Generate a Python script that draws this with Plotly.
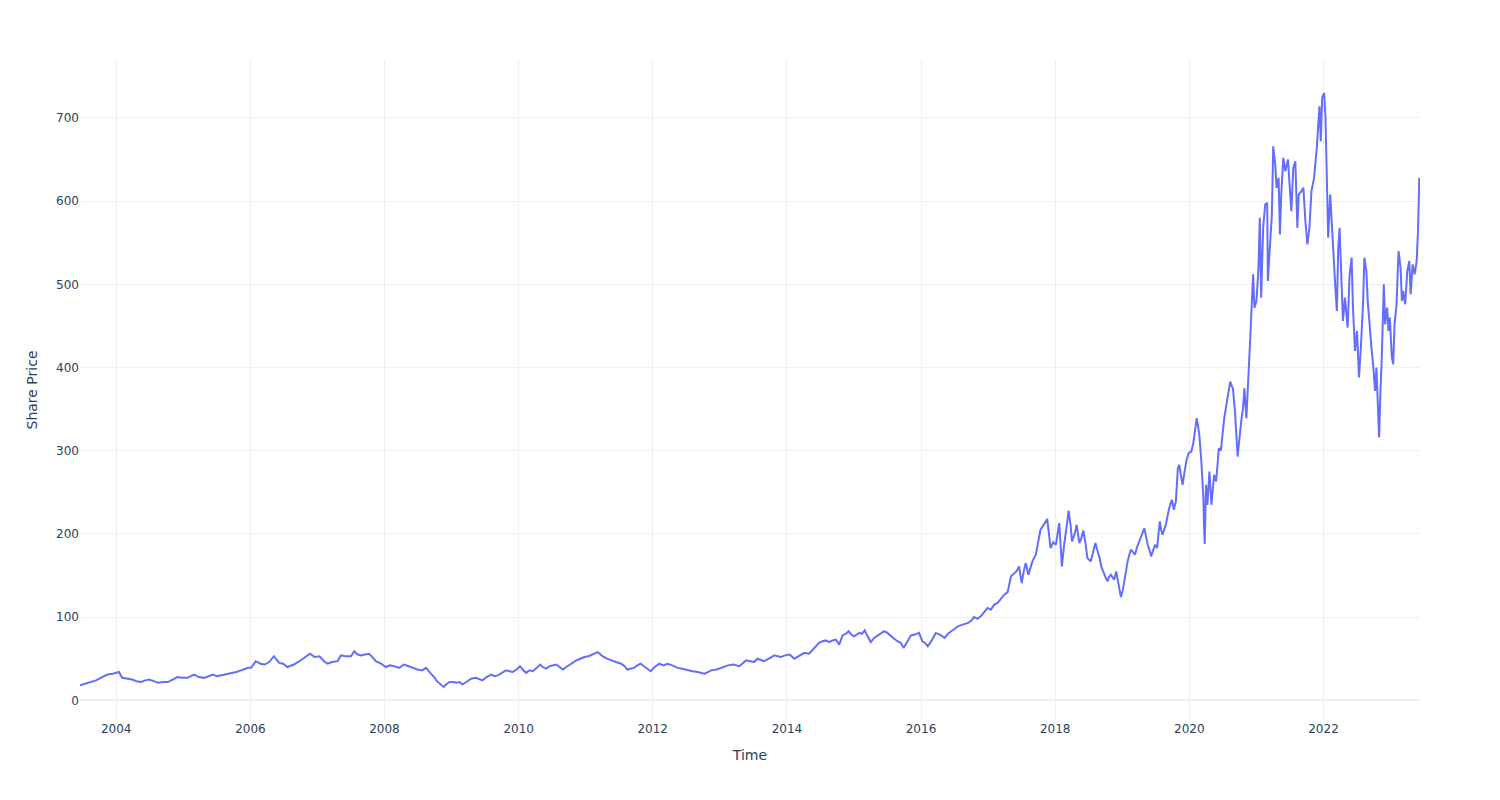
import datetime as dt
import plotly.graph_objects as go

# Time as decimal years
t_early = [2003.46, 2003.54, 2003.62, 2003.70, 2003.77, 2003.87, 2003.95, 2004.04, 2004.09, 2004.17,
           2004.24, 2004.30, 2004.37, 2004.43, 2004.49, 2004.56, 2004.62, 2004.70, 2004.77, 2004.84,
           2004.91, 2004.98, 2005.06, 2005.16, 2005.23, 2005.31, 2005.38, 2005.44, 2005.50, 2005.56,
           2005.64, 2005.71, 2005.79, 2005.86, 2005.96, 2006.01, 2006.08, 2006.15, 2006.21, 2006.28,
           2006.35, 2006.43, 2006.49, 2006.55, 2006.65, 2006.73, 2006.80, 2006.89, 2006.96, 2007.03,
           2007.10, 2007.15, 2007.22, 2007.30, 2007.35, 2007.42, 2007.50, 2007.55, 2007.60, 2007.65,
           2007.71, 2007.77, 2007.82, 2007.87, 2007.95, 2008.02, 2008.08, 2008.15]
p_early = [18, 20, 22, 24, 27, 31, 32, 34, 27, 26,
           25, 23, 22, 24, 25, 23, 21, 22, 22, 25,
           28, 27, 27, 31, 28, 27, 29, 31, 29, 30,
           31, 32, 34, 36, 39, 39, 47, 44, 43, 46,
           53, 45, 44, 40, 43, 47, 51, 56, 52, 53,
           47, 44, 46, 47, 54, 53, 53, 59, 55, 54,
           55, 56, 52, 47, 44, 40, 42, 41]

t_mid1 = [2008.22, 2008.29, 2008.36, 2008.43, 2008.49, 2008.56, 2008.62, 2008.69, 2008.74, 2008.78,
          2008.83, 2008.88, 2008.93, 2008.97, 2009.02, 2009.07, 2009.12, 2009.16, 2009.22, 2009.29,
          2009.36, 2009.41, 2009.46, 2009.52, 2009.59, 2009.64, 2009.69, 2009.75, 2009.81, 2009.86,
          2009.91, 2009.97, 2010.02, 2010.06, 2010.11, 2010.16, 2010.21, 2010.27, 2010.32, 2010.36,
          2010.41, 2010.46, 2010.51, 2010.56, 2010.61, 2010.66, 2010.71, 2010.76, 2010.81, 2010.86,
          2010.92, 2010.98, 2011.04, 2011.10, 2011.14, 2011.18, 2011.21, 2011.25, 2011.32, 2011.38,
          2011.45, 2011.53, 2011.58, 2011.62, 2011.67, 2011.72, 2011.77, 2011.82, 2011.87, 2011.92,
          2011.97, 2012.03, 2012.10, 2012.16, 2012.22, 2012.29, 2012.37, 2012.44, 2012.52, 2012.59,
          2012.67, 2012.72, 2012.77, 2012.82, 2012.87]
p_mid1 = [39, 43, 41, 39, 37, 36, 39, 32, 28, 23,
          20, 16, 20, 22, 22, 21, 22, 19, 22, 26,
          27, 25, 24, 28, 31, 29, 30, 33, 36, 35,
          34, 37, 41, 37, 33, 36, 35, 39, 43, 40,
          38, 41, 42, 43, 40, 37, 40, 43, 45, 48,
          50, 52, 53, 55, 57, 58, 56, 53, 50, 48,
          46, 44, 41, 37, 38, 39, 42, 44, 41, 38,
          35, 40, 44, 42, 44, 42, 39, 38, 36, 35,
          34, 33, 32, 34, 36]

t_mid2 = [2012.95, 2013.04, 2013.12, 2013.20, 2013.29, 2013.39, 2013.45, 2013.51, 2013.56, 2013.61,
          2013.66, 2013.73, 2013.81, 2013.86, 2013.91, 2013.97, 2014.04, 2014.11, 2014.18, 2014.26,
          2014.33, 2014.38, 2014.43, 2014.48, 2014.53, 2014.58, 2014.63, 2014.68, 2014.73, 2014.78,
          2014.83, 2014.88, 2014.92, 2014.96, 2015.00, 2015.04, 2015.08, 2015.12, 2015.16, 2015.21,
          2015.25, 2015.30, 2015.35, 2015.40, 2015.45, 2015.50, 2015.55, 2015.60, 2015.65, 2015.70,
          2015.74, 2015.79, 2015.85, 2015.91, 2015.97, 2016.02, 2016.06, 2016.10, 2016.16, 2016.22,
          2016.28, 2016.35, 2016.40, 2016.45, 2016.50, 2016.55, 2016.62, 2016.70, 2016.75, 2016.79,
          2016.84, 2016.89, 2016.94, 2016.99]
p_mid2 = [37, 40, 42, 43, 41, 48, 47, 46, 50, 48,
          47, 50, 54, 53, 52, 54, 55, 50, 53, 57,
          56, 60, 65, 69, 71, 72, 70, 72, 73, 67,
          78, 80, 83, 79, 77, 79, 81, 80, 84, 76,
          70, 75, 78, 80, 83, 81, 77, 74, 71, 69,
          63, 70, 78, 79, 81, 71, 69, 65, 72, 81,
          79, 75, 80, 83, 86, 89, 91, 93, 96, 100,
          98, 101, 106, 111]

t_late1 = [2017.04, 2017.09, 2017.14, 2017.19, 2017.24, 2017.29, 2017.34, 2017.38, 2017.42, 2017.46,
           2017.50, 2017.53, 2017.56, 2017.60, 2017.63, 2017.66, 2017.71, 2017.74, 2017.78, 2017.83,
           2017.88, 2017.90, 2017.93, 2017.97, 2018.01, 2018.06, 2018.10, 2018.13, 2018.15, 2018.18,
           2018.20, 2018.23, 2018.25, 2018.29, 2018.32, 2018.36, 2018.39, 2018.42, 2018.45, 2018.48,
           2018.53, 2018.57, 2018.60, 2018.63, 2018.66, 2018.69, 2018.72, 2018.75, 2018.78, 2018.80,
           2018.83, 2018.88, 2018.91, 2018.93, 2018.96, 2018.98, 2019.01, 2019.03, 2019.06, 2019.08,
           2019.11, 2019.13, 2019.16, 2019.19, 2019.22, 2019.25, 2019.29, 2019.33, 2019.36, 2019.38,
           2019.41, 2019.43, 2019.46, 2019.49, 2019.52, 2019.56, 2019.58, 2019.60, 2019.65, 2019.68,
           2019.70, 2019.74, 2019.77, 2019.80, 2019.83, 2019.85, 2019.87, 2019.90, 2019.93, 2019.96]
p_late1 = [109, 115, 117, 122, 127, 130, 149, 152, 155, 161,
           141, 155, 165, 151, 160, 167, 175, 188, 205, 211,
           218, 205, 183, 190, 187, 213, 161, 185, 195, 215,
           228, 210, 191, 200, 211, 189, 195, 204, 190, 171,
           167, 178, 189, 180, 172, 160, 153, 148, 143, 148,
           151, 145, 155, 147, 135, 124, 133, 143, 155, 167,
           176, 181, 178, 175, 184, 191, 200, 207, 195, 187,
           180, 173, 180, 187, 183, 215, 205, 199, 211, 222,
           231, 241, 229, 239, 279, 283, 271, 259, 275, 289]

t_late2 = [2019.99, 2020.03, 2020.06, 2020.08, 2020.11, 2020.13, 2020.15, 2020.18, 2020.20, 2020.21,
           2020.22, 2020.23, 2020.24, 2020.25, 2020.27, 2020.30, 2020.33, 2020.35, 2020.37, 2020.40,
           2020.44, 2020.47, 2020.49, 2020.52, 2020.56, 2020.59, 2020.61, 2020.63, 2020.65, 2020.68,
           2020.70, 2020.72, 2020.74, 2020.76, 2020.78, 2020.80, 2020.82, 2020.85, 2020.87, 2020.89,
           2020.91, 2020.92, 2020.94, 2020.95, 2020.97, 2021.00, 2021.03, 2021.05, 2021.07, 2021.10,
           2021.13, 2021.16, 2021.17, 2021.21, 2021.23, 2021.25, 2021.28, 2021.30, 2021.33, 2021.35,
           2021.37, 2021.40, 2021.43, 2021.47, 2021.50, 2021.52, 2021.55, 2021.58, 2021.61, 2021.63,
           2021.67, 2021.70, 2021.73, 2021.76, 2021.79, 2021.82, 2021.86, 2021.90, 2021.94, 2021.96,
           2021.98, 2022.01, 2022.03]
p_late2 = [297, 299, 309, 323, 339, 330, 319, 287, 260, 243,
           210, 188, 225, 259, 235, 275, 235, 255, 271, 263,
           303, 300, 315, 339, 359, 372, 383, 378, 375, 347,
           315, 293, 310, 327, 340, 351, 375, 339, 380, 407,
           440, 458, 500, 512, 472, 480, 520, 580, 484, 568,
           596, 598, 504, 560, 584, 666, 644, 616, 628, 560,
           608, 652, 636, 650, 608, 588, 640, 648, 568, 608,
           612, 616, 576, 548, 568, 612, 628, 664, 714, 672,
           724, 730, 700]

t_last = [2022.04, 2022.06, 2022.07, 2022.10, 2022.13, 2022.15, 2022.18, 2022.20, 2022.22, 2022.24,
          2022.27, 2022.29, 2022.32, 2022.36, 2022.39, 2022.42, 2022.44, 2022.47, 2022.50, 2022.53,
          2022.56, 2022.59, 2022.61, 2022.64, 2022.66, 2022.69, 2022.72, 2022.74, 2022.77, 2022.79,
          2022.82, 2022.83, 2022.85, 2022.87, 2022.90, 2022.92, 2022.95, 2022.97, 2022.99, 2023.02,
          2023.04, 2023.06, 2023.09, 2023.12, 2023.15, 2023.17, 2023.19, 2023.22, 2023.25, 2023.28,
          2023.30, 2023.33, 2023.36, 2023.39, 2023.41, 2023.42, 2023.43, 2023.44]
p_last = [660, 608, 556, 608, 560, 540, 492, 468, 544, 568,
          492, 456, 484, 448, 512, 532, 472, 420, 444, 388,
          428, 476, 532, 516, 480, 444, 420, 404, 372, 400,
          348, 316, 372, 412, 500, 452, 472, 444, 460, 412,
          404, 452, 476, 540, 520, 480, 492, 476, 516, 528,
          488, 524, 512, 528, 564, 600, 628, 608]

years = t_early + t_mid1 + t_mid2 + t_late1 + t_late2 + t_last
prices = p_early + p_mid1 + p_mid2 + p_late1 + p_late2 + p_last


def to_date(y):
    yr = int(y)
    start = dt.datetime(yr, 1, 1)
    days = (dt.datetime(yr + 1, 1, 1) - start).days
    return start + dt.timedelta(days=(y - yr) * days)


dates = [to_date(y) for y in years]

fig = go.Figure()
fig.add_trace(go.Scatter(x=dates, y=prices, mode="lines",
                         line=dict(color="#636efa", width=2), showlegend=False))
fig.update_layout(
    template="plotly_white",
    width=1500, height=800,
    font=dict(family="DejaVu Sans", size=12),
    margin=dict(l=72, r=88, t=52, b=88),
    xaxis_title="Time",
    yaxis_title="Share Price",
)
fig.write_html("out.html")
